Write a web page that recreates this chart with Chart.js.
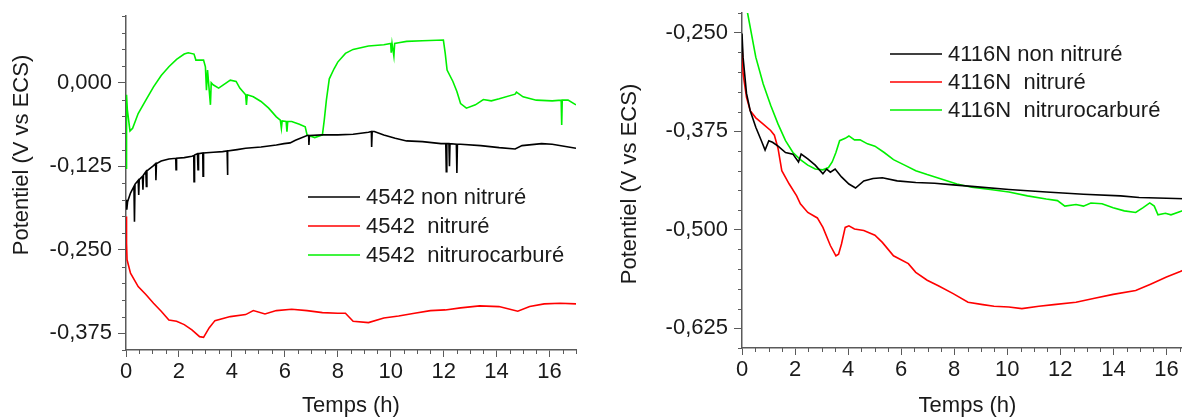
<!DOCTYPE html>
<html>
<head>
<meta charset="utf-8">
<script src="https://cdn.jsdelivr.net/npm/chart.js@4/dist/chart.umd.min.js"></script>
<style>
  html, body { margin: 0; padding: 0; background: #fff; overflow: hidden; width: 1182px; height: 419px; }
  canvas { position: absolute; top: 0; }
  #left { left: 0; }
  #right { left: 600px; }
</style>
</head>
<body>
<canvas id="left" width="600" height="419"></canvas>
<canvas id="right" width="620" height="419"></canvas>
<script>
// 4542 steel, left panel
var t4542Black = [0, 0.03, 0.06, 0.17, 0.30, 0.32, 0.34, 0.46, 0.48, 0.50, 0.62, 0.64, 0.66, 0.75, 0.77, 0.79, 1.04, 1.12, 1.13, 1.15, 1.33, 1.62, 1.88, 1.89, 1.91, 2.20, 2.49, 2.56, 2.57, 2.59, 2.70, 2.72, 2.74, 2.90, 2.91, 2.93, 3.30, 3.65, 3.82, 3.83, 3.85, 4.20, 4.52, 5.10, 5.68, 5.97, 6.20, 6.40, 6.84, 6.90, 6.91, 6.93, 7.42, 8.00, 8.58, 9.16, 9.27, 9.28, 9.30, 9.38, 9.74, 10.17, 10.60, 11.20, 11.90, 12.08, 12.10, 12.12, 12.20, 12.22, 12.24, 12.48, 12.50, 12.52, 12.64, 13.40, 14.10, 14.70, 14.96, 15.70, 16.10, 17.00];
var v4542Black = [-0.175, -0.190, -0.178, -0.165, -0.155, -0.208, -0.152, -0.146, -0.168, -0.145, -0.140, -0.160, -0.138, -0.133, -0.155, -0.132, -0.124, -0.121, -0.146, -0.121, -0.117, -0.114, -0.113, -0.130, -0.113, -0.112, -0.110, -0.109, -0.148, -0.108, -0.106, -0.130, -0.106, -0.105, -0.140, -0.105, -0.104, -0.103, -0.102, -0.138, -0.102, -0.100, -0.098, -0.096, -0.093, -0.091, -0.090, -0.086, -0.079, -0.079, -0.093, -0.079, -0.078, -0.078, -0.077, -0.074, -0.073, -0.096, -0.073, -0.073, -0.078, -0.083, -0.087, -0.088, -0.091, -0.091, -0.133, -0.091, -0.091, -0.125, -0.091, -0.092, -0.135, -0.092, -0.092, -0.094, -0.097, -0.099, -0.094, -0.091, -0.092, -0.098];

var t4542Red = [0, 0.02, 0.04, 0.17, 0.46, 0.75, 1.04, 1.33, 1.62, 1.91, 2.20, 2.49, 2.78, 2.93, 3.14, 3.36, 3.94, 4.52, 4.81, 5.25, 5.68, 6.26, 6.84, 7.42, 8.00, 8.29, 8.58, 9.16, 9.74, 10.30, 10.90, 11.50, 12.06, 12.64, 13.36, 14.09, 14.80, 15.25, 15.80, 16.40, 17.00];
var v4542Red = [-0.200, -0.240, -0.265, -0.285, -0.305, -0.317, -0.330, -0.342, -0.355, -0.357, -0.362, -0.370, -0.380, -0.381, -0.367, -0.356, -0.350, -0.347, -0.341, -0.346, -0.341, -0.339, -0.341, -0.344, -0.345, -0.345, -0.357, -0.359, -0.352, -0.349, -0.345, -0.341, -0.340, -0.337, -0.334, -0.335, -0.342, -0.335, -0.331, -0.330, -0.331];

var t4542Green = [0, 0.02, 0.05, 0.15, 0.25, 0.46, 0.75, 1.04, 1.33, 1.62, 1.91, 2.20, 2.35, 2.57, 2.64, 2.93, 3.00, 3.04, 3.08, 3.19, 3.22, 3.29, 3.50, 3.94, 4.16, 4.30, 4.52, 4.55, 4.58, 4.81, 5.10, 5.39, 5.68, 5.83, 5.87, 5.90, 6.05, 6.08, 6.11, 6.26, 6.55, 6.77, 6.84, 7.13, 7.42, 7.49, 7.57, 7.68, 7.86, 8.00, 8.29, 8.58, 9.16, 9.74, 10.00, 10.02, 10.05, 10.12, 10.15, 10.30, 10.60, 11.20, 11.99, 12.06, 12.13, 12.35, 12.50, 12.64, 12.86, 13.20, 13.50, 13.80, 14.10, 14.70, 14.75, 15.00, 15.50, 16.10, 16.44, 16.46, 16.48, 16.70, 17.00];
var v4542Green = [-0.128, -0.018, -0.040, -0.072, -0.068, -0.046, -0.026, -0.006, 0.011, 0.024, 0.035, 0.043, 0.045, 0.043, 0.034, 0.034, 0.024, -0.011, 0.019, -0.033, 0.000, -0.003, -0.008, 0.004, 0.002, -0.008, -0.018, -0.033, -0.018, -0.021, -0.028, -0.038, -0.051, -0.056, -0.068, -0.057, -0.058, -0.073, -0.058, -0.058, -0.062, -0.066, -0.078, -0.082, -0.078, -0.056, -0.026, 0.006, 0.021, 0.031, 0.044, 0.050, 0.055, 0.057, 0.059, 0.045, 0.059, 0.040, 0.059, 0.060, 0.062, 0.063, 0.064, 0.044, 0.019, 0.002, -0.013, -0.031, -0.038, -0.033, -0.025, -0.027, -0.024, -0.017, -0.014, -0.021, -0.026, -0.027, -0.026, -0.063, -0.026, -0.026, -0.033];

// 4116N steel, right panel
var t4116Black = [0, 0.04, 0.17, 0.31, 0.52, 0.73, 0.87, 1.01, 1.15, 1.36, 1.64, 1.92, 2.13, 2.23, 2.48, 2.76, 3.05, 3.19, 3.33, 3.51, 3.75, 4.03, 4.28, 4.59, 4.94, 5.29, 5.85, 6.55, 7.26, 7.96, 8.66, 10.06, 11.47, 12.87, 14.27, 14.97, 16.00, 17.00];
var v4116Black = [-0.251, -0.281, -0.327, -0.349, -0.370, -0.387, -0.399, -0.387, -0.389, -0.394, -0.402, -0.404, -0.414, -0.404, -0.410, -0.418, -0.429, -0.423, -0.427, -0.423, -0.433, -0.442, -0.447, -0.438, -0.435, -0.434, -0.438, -0.440, -0.441, -0.443, -0.445, -0.449, -0.452, -0.455, -0.457, -0.459, -0.460, -0.461];

var t4116Red = [0, 0.04, 0.17, 0.31, 0.52, 0.80, 1.08, 1.22, 1.36, 1.50, 1.78, 2.06, 2.20, 2.48, 2.84, 3.05, 3.33, 3.54, 3.64, 3.75, 3.89, 4.03, 4.24, 4.59, 5.01, 5.29, 5.71, 6.27, 6.55, 6.98, 7.40, 7.96, 8.52, 9.08, 9.50, 10.06, 10.55, 11.19, 11.75, 12.59, 13.29, 13.99, 14.84, 15.40, 16.00, 16.52, 17.00];
var v4116Red = [-0.260, -0.302, -0.332, -0.349, -0.358, -0.366, -0.374, -0.380, -0.397, -0.425, -0.442, -0.457, -0.467, -0.478, -0.485, -0.497, -0.520, -0.533, -0.531, -0.518, -0.497, -0.495, -0.499, -0.501, -0.507, -0.516, -0.533, -0.543, -0.554, -0.564, -0.571, -0.581, -0.592, -0.595, -0.597, -0.598, -0.600, -0.597, -0.595, -0.592, -0.587, -0.582, -0.577, -0.569, -0.560, -0.553, -0.546];

var t4116Green = [0, 0.21, 0.52, 0.80, 1.08, 1.36, 1.64, 1.92, 2.20, 2.48, 2.76, 3.05, 3.26, 3.40, 3.54, 3.68, 3.89, 4.03, 4.24, 4.45, 4.73, 5.01, 5.36, 5.71, 6.13, 6.55, 6.98, 7.54, 8.10, 8.66, 9.36, 10.06, 10.76, 11.47, 11.89, 12.17, 12.59, 12.87, 13.15, 13.57, 13.99, 14.41, 14.84, 15.12, 15.37, 15.54, 15.68, 15.96, 16.17, 16.60, 17.00];
var v4116Green = [-0.180, -0.225, -0.281, -0.315, -0.342, -0.366, -0.387, -0.402, -0.411, -0.418, -0.423, -0.424, -0.421, -0.414, -0.402, -0.387, -0.384, -0.381, -0.386, -0.386, -0.391, -0.394, -0.402, -0.411, -0.418, -0.425, -0.430, -0.436, -0.442, -0.446, -0.449, -0.452, -0.457, -0.461, -0.463, -0.470, -0.468, -0.470, -0.466, -0.467, -0.472, -0.476, -0.478, -0.472, -0.466, -0.470, -0.481, -0.479, -0.481, -0.476, -0.476];

var labels4542 = ['4542 non nitruré', '4542  nitruré', '4542  nitrurocarburé'];
var labels4116 = ['4116N non nitruré', '4116N  nitruré', '4116N  nitrurocarburé'];
var xTicks = [0, 2, 4, 6, 8, 10, 12, 14, 16];
var yTicks4542 = [-0.375, -0.250, -0.125, 0];
var yTicks4116 = [-0.625, -0.500, -0.375, -0.250];

var FONT = '"Liberation Sans", Arial, sans-serif';
var TXT = '#1a1a1a';
var AXIS = '#5a5a5a';
var colors = ['#000000', '#ff0000', '#00f000'];

function pts(t, v) {
  return t.map(function (x, i) { return { x: x, y: v[i] }; });
}

function fmtV(v) {
  return v.toFixed(3).replace('.', ',');
}

// minor ticks, in-plot legend and the y title
var extras = {
  id: 'extras',
  afterDraw: function (chart, args, o) {
    var ctx = chart.ctx, xs = chart.scales.x, ys = chart.scales.y, a = chart.chartArea;
    ctx.save();
    ctx.strokeStyle = AXIS;
    ctx.lineWidth = 1;
    var i, p;
    for (i = 0; i <= Math.round((xs.max - xs.min) / 0.5); i++) {
      var xv = xs.min + i * 0.5;
      if (Math.abs(xv % 2) < 1e-6) continue;
      p = Math.round(xs.getPixelForValue(xv)) + 0.5;
      ctx.beginPath(); ctx.moveTo(p, a.bottom); ctx.lineTo(p, a.bottom + 4); ctx.stroke();
    }
    for (i = 0; i <= Math.round((ys.max - ys.min) / 0.025); i++) {
      var yv = ys.min + i * 0.025;
      if (o.yMajor.some(function (m) { return Math.abs(m - yv) < 1e-6; })) continue;
      p = Math.round(ys.getPixelForValue(yv)) + 0.5;
      ctx.beginPath(); ctx.moveTo(a.left - 4, p); ctx.lineTo(a.left, p); ctx.stroke();
    }
    // legend
    ctx.font = '22px ' + FONT;
    ctx.fillStyle = TXT;
    ctx.textBaseline = 'middle';
    ctx.textAlign = 'left';
    chart.data.datasets.forEach(function (ds, k) {
      var y = o.legY + k * o.legDy;
      ctx.strokeStyle = ds.borderColor;
      ctx.lineWidth = 1.6;
      ctx.beginPath(); ctx.moveTo(o.legX, y); ctx.lineTo(o.legX + 52, y); ctx.stroke();
      ctx.fillText(ds.label, o.legX + 58, y + 1);
    });
    // y title
    ctx.translate(o.titleX, o.titleY);
    ctx.rotate(-Math.PI / 2);
    ctx.textAlign = 'center';
    ctx.fillText('Potentiel (V vs ECS)', 0, 0);
    ctx.restore();
  }
};

function makeChart(id, labels, series, yMin, yMax, yMajor, box, ex) {
  return new Chart(document.getElementById(id), {
    type: 'line',
    data: {
      datasets: series.map(function (s, k) {
        return {
          label: labels[k],
          data: pts(s[0], s[1]),
          borderColor: colors[k],
          borderWidth: 1.6,
          pointRadius: 0,
          tension: 0,
          fill: false
        };
      })
    },
    options: {
      responsive: false,
      animation: false,
      devicePixelRatio: 1,
      layout: { padding: { left: 0, right: box.right, top: box.top, bottom: 0 } },
      plugins: { legend: { display: false }, tooltip: { enabled: false }, extras: ex },
      scales: {
        x: {
          type: 'linear', min: 0, max: 17,
          afterBuildTicks: function (s) { s.ticks = xTicks.map(function (v) { return { value: v }; }); },
          afterFit: function (s) { s.height = box.xh; s.paddingLeft = 0; s.paddingRight = 0; },
          grid: { display: true, drawOnChartArea: false, tickLength: 7, color: AXIS, lineWidth: 1 },
          border: { display: true, color: AXIS, width: 1.5 },
          ticks: { padding: 2, color: TXT, font: { family: FONT, size: 22 }, maxRotation: 0,
            callback: function (v) { return String(v); } },
          title: { display: true, text: 'Temps (h)', color: TXT, font: { family: FONT, size: 22 }, padding: 0 }
        },
        y: {
          type: 'linear', min: yMin, max: yMax,
          afterBuildTicks: function (s) { s.ticks = yMajor.map(function (v) { return { value: v }; }); },
          afterFit: function (s) { s.width = box.yw; s.paddingTop = 0; s.paddingBottom = 0; },
          grid: { display: true, drawOnChartArea: false, tickLength: 8, color: AXIS, lineWidth: 1 },
          border: { display: true, color: AXIS, width: 1.5 },
          ticks: { padding: 6, color: TXT, font: { family: FONT, size: 22 },
            callback: function (v) { return fmtV(v); } }
        }
      }
    },
    plugins: [extras]
  });
}

makeChart('left', labels4542,
  [[t4542Black, v4542Black], [t4542Red, v4542Red], [t4542Green, v4542Green]],
  -0.4, 0.1, yTicks4542,
  { right: 24, top: 16, xh: 69, yw: 126 },
  { yMajor: yTicks4542, legX: 308, legY: 197, legDy: 29, titleX: 22, titleY: 155 });

makeChart('right', labels4116,
  [[t4116Black, v4116Black], [t4116Red, v4116Red], [t4116Green, v4116Green]],
  -0.65, -0.225, yTicks4116,
  { right: 27, top: 13, xh: 71, yw: 142 },
  { yMajor: yTicks4116, legX: 290, legY: 54, legDy: 28, titleX: 30, titleY: 184 });
</script>
</body>
</html>
